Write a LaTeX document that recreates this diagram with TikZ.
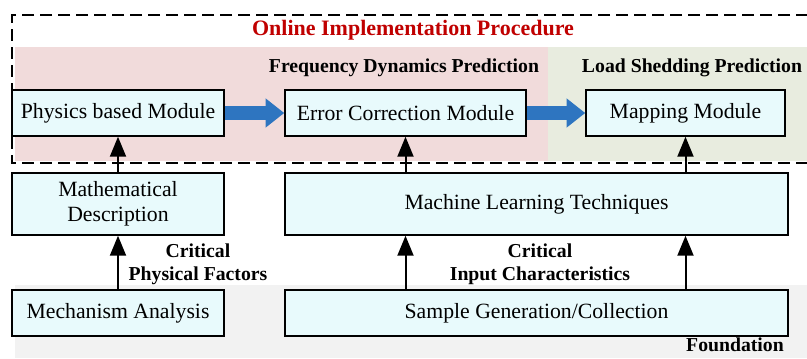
\documentclass[tikz,border=0pt]{standalone}
\usepackage{fontspec}
\setmainfont{Liberation Serif}
\usetikzlibrary{arrows.meta}

\definecolor{boxcyan}{RGB}{232,250,252}
\definecolor{onlinered}{RGB}{192,0,0}
\definecolor{freqpink}{RGB}{241,219,219}
\definecolor{loadgreen}{RGB}{232,236,223}
\definecolor{basegrey}{RGB}{242,242,242}
\definecolor{flowblue}{RGB}{46,117,192}

\begin{document}
\begin{tikzpicture}[x=0.75pt,y=-0.75pt,
  module/.style={draw,line width=1.1pt,fill=boxcyan,minimum height=34.5pt,
    inner sep=2pt,align=center,font=\fontsize{16.3}{19}\selectfont},
  tag/.style={align=center,font=\fontsize{14.8}{17}\selectfont\bfseries},
  up/.style={-{Triangle[length=15pt,width=12pt]},line width=1.5pt},
  flow/.style={-{Triangle[length=14pt,width=21pt]},line width=10.5pt,flowblue}]
  \useasboundingbox (0,0) rectangle (807,358);

  % background regions
  \fill[freqpink]  (15,47) rectangle (548,161);
  \fill[loadgreen] (548,47) rectangle (807,161);
  \fill[basegrey]  (15,285) rectangle (807,358);
  \draw[line width=1.2pt,dash pattern=on 9pt off 4.5pt]
    (808,15) -- (12,15) -- (12,163) -- (808,163);

  % titles
  \node[tag,text=onlinered,font=\fontsize{16.5}{19}\selectfont\bfseries] (online) at (413,30) {Online Implementation Procedure};
  \node[tag] (freq) at (404,68) {Frequency Dynamics Prediction};
  \node[tag] (load) at (692,68) {Load Shedding Prediction};
  \node[tag] (found) at (735,345) {Foundation};

  % modules
  \node[module,minimum width=159pt]    (phys) at (118,113)   {Physics based Module};
  \node[module,minimum width=180.75pt] (err)  at (405.5,113) {Error Correction Module};
  \node[module,minimum width=149.25pt] (map)  at (685.5,113) {Mapping Module};
  \node[module,minimum width=159pt,minimum height=46.5pt] (math) at (118,204) {Mathematical\\Description};
  \node[module,minimum width=377.25pt,minimum height=46.5pt] (ml) at (536.5,204) {Machine Learning Techniques};
  \node[module,minimum width=159pt]    (mech) at (118,313)   {Mechanism Analysis};
  \node[module,minimum width=377.25pt] (samp) at (536.5,313) {Sample Generation/Collection};

  \node[tag] (phyfac) at (198,264) {Critical\\Physical Factors};
  \node[tag] (inpchar) at (540,264) {Critical\\Input Characteristics};

  % connections
  \draw[flow] (phys.east) -- (err.west);
  \draw[flow] (err.east) -- (map.west);
  \draw[up] (mech.north) -- (math.south);
  \draw[up] (math.north) -- (phys.south);
  \draw[up] (samp.north -| err.south) -- (ml.south -| err.south);
  \draw[up] (samp.north -| map.south) -- (ml.south -| map.south);
  \draw[up] (ml.north -| err.south) -- (err.south);
  \draw[up] (ml.north -| map.south) -- (map.south);
\end{tikzpicture}
\end{document}
